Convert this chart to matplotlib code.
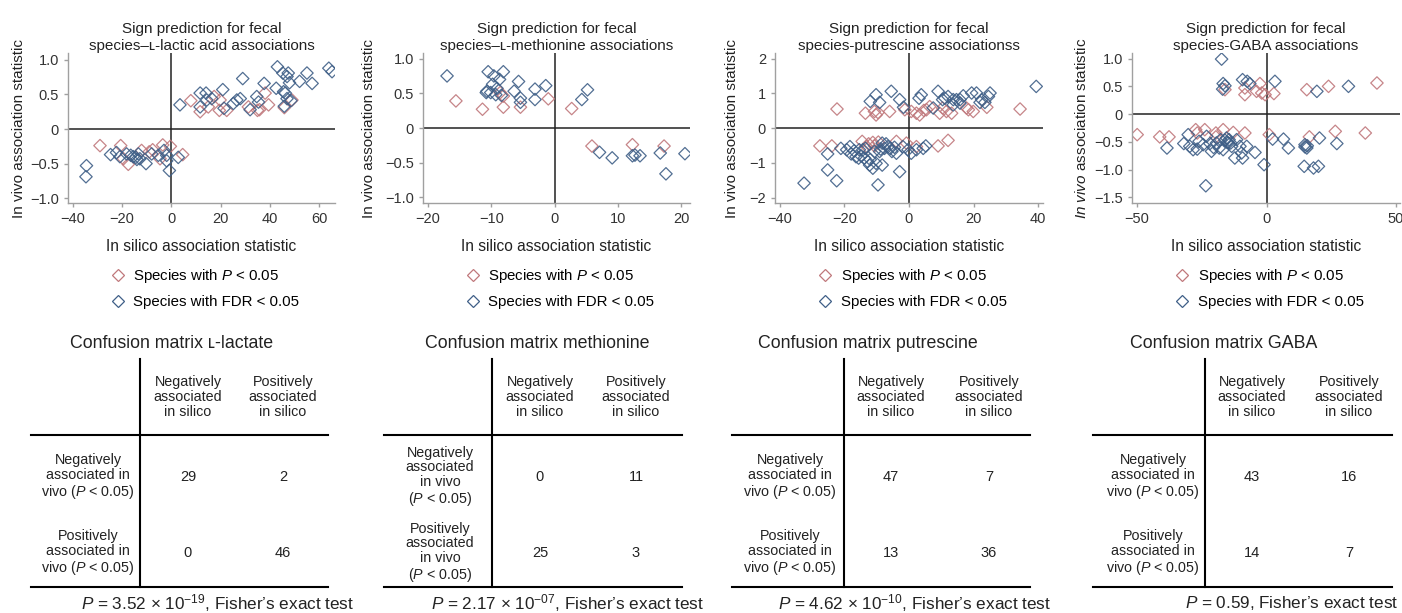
import matplotlib
matplotlib.use('Agg')
import matplotlib.pyplot as plt
from matplotlib.lines import Line2D

plt.rcParams['font.family'] = ['Liberation Sans', 'DejaVu Sans']
plt.rcParams['mathtext.fontset'] = 'custom'
plt.rcParams['mathtext.rm'] = 'Liberation Sans'
plt.rcParams['mathtext.it'] = 'Liberation Sans:italic'

RED = '#c0787c'
BLUE = '#3f5f87'

# ---- L-lactic acid ----
lac_red_x = [7.9, 11.7, 15, 17.4, 19.8, 19.5, 22.5, 31.3, 35, 35.8, 38.1, 39.5, 45.9, 49,
             -29, -20.6, -19.5, -17.5, -12.1, -7.6, -4.6, -3.5, -0.4, -9, 4.6]
lac_red_y = [0.41, 0.25, 0.32, 0.47, 0.42, 0.27, 0.27, 0.32, 0.27, 0.28, 0.52, 0.35, 0.31, 0.42,
             -0.24, -0.24, -0.43, -0.51, -0.31, -0.30, -0.43, -0.23, -0.25, -0.33, -0.37]
lac_blue_x = [3.5, 11.7, 11.7, 14.1, 14.4, 16.4, 20.9, 21.4, 25.2, 26.6, 28, 29, 32, 34.7, 35.4,
              37.7, 42.6, 43.1, 45.3, 45.6, 45.9, 47, 47.5, 48, 47, 48.6, 52.1, 55.1, 57.2, 64,
              65.3, 46.3,
              -34.5, -34.7, -24.7, -22.3, -20.9, -18.2, -15.5, -14.4, -13.4, -12.8, -10.3, -8,
              -5.3, -3, -1.9, -0.8, 2.8, -1.9, -16.5, -14]
lac_blue_y = [0.35, 0.52, 0.32, 0.52, 0.42, 0.44, 0.57, 0.30, 0.37, 0.42, 0.44, 0.73, 0.28, 0.47,
              0.39, 0.66, 0.59, 0.9, 0.81, 0.54, 0.33, 0.76, 0.81, 0.67, 0.44, 0.41, 0.69, 0.81,
              0.66, 0.88, 0.83, 0.52,
              -0.53, -0.69, -0.37, -0.34, -0.40, -0.36, -0.40, -0.41, -0.36, -0.43, -0.50, -0.36,
              -0.38, -0.31, -0.38, -0.60, -0.41, -0.46, -0.38, -0.44]

# ---- L-methionine ----
met_red_x = [-15.6, -11.4, -8.6, -8.1, -8.1, -5.4, -1.0, 2.7, 5.9, 12.3, 17.3]
met_red_y = [0.39, 0.27, 0.51, 0.46, 0.30, 0.30, 0.42, 0.28, -0.26, -0.24, -0.26]
met_blue_x = [-17, -10.5, -9.6, -8.7, -8.1, -9.8, -10.7, -10.8, -10.1, -8.4, -5.7, -6.4, -5.4,
              -5.4, -3.1, -3.1, -1.4, -9.1, -9.3, 4.3, 5.2,
              7.1, 9.1, 12.3, 12.7, 13.5, 16.7, 17.6, 20.6]
met_blue_y = [0.75, 0.81, 0.75, 0.70, 0.81, 0.63, 0.53, 0.51, 0.51, 0.47, 0.67, 0.53, 0.43,
              0.37, 0.56, 0.41, 0.61, 0.57, 0.48, 0.41, 0.55,
              -0.35, -0.43, -0.40, -0.39, -0.40, -0.36, -0.66, -0.37]

# ---- putrescine ----
put_red_x = [-22.3, -13.5, -10.7, -10.2, -9.6, -6, -1.3, 2.3, 3.3, 4.6, 9.5, 11.6, 13.2, 17.8,
             19.9, 24.1, 34.4, 5.4, 0.7, 6.4, 18.4, 10.4,
             -27.6, -23.9, -14.5, -13.1, -11.2, -10.7, -3.9, -0.8, 2.3, 9.0, 12.1, -12.5, -9.5]
put_red_y = [0.55, 0.43, 0.48, 0.38, 0.45, 0.48, 0.53, 0.43, 0.38, 0.51, 0.43, 0.48, 0.43, 0.58,
             0.48, 0.60, 0.55, 0.53, 0.48, 0.62, 0.53, 0.58,
             -0.51, -0.51, -0.38, -0.53, -0.41, -0.51, -0.38, -0.43, -0.53, -0.51, -0.35, -0.45,
             -0.40]
put_blue_x = [-12, -10.2, -9.1, -5.5, -2.9, -1.7, 3.1, 3.8, 7.5, 9.0, 11.1, 12.1, 13.7, 14.7,
              15.8, 16.8, 19.4, 20.9, 22.5, 23.5, 25.1, 24.6, 39.4, 10.4, 15.8, 22, 13.7,
              -25.2, -25.2, -22.4, -32.5, -21.1, -19.3, -18.3, -17.9, -16.4, -15.6, -14.3, -13.8,
              -12.8, -12.2, -11.2, -10.7, -9.1, -8.3, -8.3, -9.6, -7.6, -7.1, -5.8, -3.9, -2.9,
              -1.9, -0.3, 0.7, 2.3, 4.4, 5.2, -10.2, -5.3, -13.5, -15.4, -6.5, -17, -14.8, -12,
              -8.8, -4.5]
put_blue_y = [0.77, 0.96, 0.74, 1.06, 0.82, 0.60, 0.86, 0.96, 0.58, 1.06, 0.86, 0.91, 0.67, 0.82,
              0.72, 0.93, 1.01, 1.01, 0.82, 0.74, 1.01, 0.91, 1.20, 0.82, 0.82, 0.74, 0.82,
              -0.74, -1.20, -1.51, -1.58, -0.58, -0.62, -0.53, -0.74, -0.82, -0.86, -0.62, -0.86,
              -0.96, -1.06, -1.15, -0.67, -0.67, -0.43, -1.06, -1.63, -0.58, -0.45, -0.58, -0.72,
              -1.25, -0.53, -0.62, -0.72, -0.62, -0.58, -0.51, -1.01, -0.67, -0.58, -0.62, -0.53,
              -0.65, -0.80, -0.90, -0.60, -0.55]

# ---- GABA ----
gaba_red_x = [-16.1, -8.4, -8.4, -2.6, -3.9, -1.9, -0.6, 2.8, 15.5, 23.9, 42.6,
              -50, -41.3, -37.7, -27.4, -26.8, -23.9, -19.6, -19.6, -16.8, -12.9, -8.4, 1.0, 16.5,
              26.5, 38.1]
gaba_red_y = [0.44, 0.47, 0.35, 0.55, 0.41, 0.38, 0.35, 0.37, 0.44, 0.50, 0.56,
              -0.37, -0.41, -0.41, -0.28, -0.34, -0.28, -0.34, -0.41, -0.28, -0.33, -0.34, -0.37,
              -0.41, -0.31, -0.34]
gaba_blue_x = [-17.4, -16.8, -16.1, -17.0, -9.3, -7.5, -6.5, 3.2, 19.4, 31.6,
               -38.5, -32, -30.3, -29.7, -28.4, -26.8, -26.1, -24.5, -23.2, -21.9, -21.3, -19.4,
               -18.3, -17.8, -16.8, -15.5, -14.8, -14.5, -13.5, -12.3, -11.6, -10.3, -9.7, -9.3,
               -7.7, -4.5, -1.0, -23.5, -16.1, -15.2, -13.9, -20.5,
               2.3, 6.5, 8.4, 14.8, 14.8, 15.5, 14.5, 18.1, 20.0, 20.4, 27.1, 15.7]
gaba_blue_y = [0.99, 0.55, 0.51, 0.45, 0.62, 0.59, 0.55, 0.59, 0.41, 0.50,
               -0.61, -0.53, -0.37, -0.58, -0.64, -0.63, -0.49, -0.55, -0.40, -0.53, -0.67, -0.52,
               -0.61, -0.46, -0.64, -0.43, -0.52, -0.46, -0.58, -0.79, -0.46, -0.58, -0.70, -0.79,
               -0.58, -0.69, -0.91, -1.29, -0.47, -0.51, -0.52, -0.60,
               -0.45, -0.45, -0.61, -0.55, -0.59, -0.61, -0.94, -0.97, -0.94, -0.43, -0.53, -0.57]

titles = ['Sign prediction for fecal\nspecies–ʟ-lactic acid associations',
          'Sign prediction for fecal\nspecies–ʟ-methionine associations',
          'Sign prediction for fecal\nspecies-putrescine associationss',
          'Sign prediction for fecal\nspecies-GABA associations']
xticks = [[-40, -20, 0, 20, 40, 60], [-20, -10, 0, 10, 20], [-40, -20, 0, 20, 40], [-50, 0, 50]]
yticks = [[-1.0, -0.5, 0, 0.5, 1.0], [-1.0, -0.5, 0, 0.5, 1.0], [-2, -1, 0, 1, 2],
          [-1.5, -1.0, -0.5, 0, 0.5, 1.0]]
ytick_labels = [['−1.0', '−0.5', '0', '0.5', '1.0'], ['−1.0', '−0.5', '0', '0.5', '1.0'],
                ['−2', '−1', '0', '1', '2'], ['−1.5', '−1.0', '−0.5', '0', '0.5', '1.0']]

# confusion matrices: rows = in vivo (neg, pos), cols = in silico (neg, pos)
cm_names = ['ʟ-lactate', 'methionine', 'putrescine', 'GABA']
cm_values = [[[29, 2], [0, 46]], [[0, 11], [25, 3]], [[47, 7], [13, 36]], [[43, 16], [14, 7]]]
p_texts = [r'$P$ = 3.52 × 10$^{-19}$, Fisher’s exact test',
           r'$P$ = 2.17 × 10$^{-07}$, Fisher’s exact test',
           r'$P$ = 4.62 × 10$^{-10}$, Fisher’s exact test',
           r'$P$ = 0.59, Fisher’s exact test']

series = [(lac_red_x, lac_red_y, lac_blue_x, lac_blue_y),
          (met_red_x, met_red_y, met_blue_x, met_blue_y),
          (put_red_x, put_red_y, put_blue_x, put_blue_y),
          (gaba_red_x, gaba_red_y, gaba_blue_x, gaba_blue_y)]

W, H = 1402, 613
fig = plt.figure(figsize=(W / 100, H / 100), dpi=100)

# axes boxes in pixels: left, right
ax_px = [(68, 335), (423, 690), (775, 1043), (1132, 1400)]
ax_top, ax_bot = 53, 203
xlims = [(-42, 66.5), (-20.8, 21.4), (-41.5, 41.5), (-52, 51.5)]
ylims = [(-1.07, 1.1), (-1.08, 1.08), (-2.15, 2.16), (-1.6, 1.1)]
ylab_x = [-0.157, -0.175, -0.134, -0.16]

for i in range(4):
    l, r = ax_px[i]
    ax = fig.add_axes([l / W, 1 - ax_bot / H, (r - l) / W, (ax_bot - ax_top) / H])
    rx, ry, bx, by = series[i]
    ax.axhline(0, color='#222222', lw=1.1, zorder=1)
    ax.axvline(0, color='#222222', lw=1.1, zorder=1)
    ax.scatter(rx, ry, s=40, marker='D', facecolors='none', edgecolors=RED, linewidths=0.9,
               alpha=0.9, zorder=2)
    ax.scatter(bx, by, s=40, marker='D', facecolors='none', edgecolors=BLUE, linewidths=0.9,
               alpha=0.9, zorder=3)
    ax.set_xlim(*xlims[i])
    ax.set_ylim(*ylims[i])
    ax.set_xticks(xticks[i])
    ax.set_xticklabels([str(t).replace('-', '−') for t in xticks[i]])
    ax.set_yticks(yticks[i])
    ax.set_yticklabels(ytick_labels[i])
    for s in ['top', 'right']:
        ax.spines[s].set_visible(False)
    for s in ['left', 'bottom']:
        ax.spines[s].set_color('#a0a0a0')
        ax.spines[s].set_linewidth(1.0)
    ax.tick_params(colors='#a0a0a0', labelcolor='#333333', labelsize=10.5, length=3, width=1)
    ax.set_title(titles[i], fontsize=11, linespacing=1.25, pad=2, color='#222222')
    if i == 3:
        ax.set_ylabel(r'$\mathit{In\ vivo}$ association statistic', fontsize=11, color='#222222')
    else:
        ax.set_ylabel('In vivo association statistic', fontsize=11, color='#222222')
    ax.yaxis.set_label_coords(ylab_x[i], 0.5)
    ax.set_xlabel('In silico association statistic', fontsize=11.2, color='#222222')
    ax.xaxis.set_label_coords(0.5, -0.24)
    handles = [Line2D([], [], marker='D', ls='none', mfc='none', mec=RED, ms=6.3, mew=0.9),
               Line2D([], [], marker='D', ls='none', mfc='none', mec=BLUE, ms=6.3, mew=0.9)]
    ax.legend(handles, [r'Species with $P$ < 0.05', 'Species with FDR < 0.05'],
              loc='upper left', bbox_to_anchor=(0.158, -0.425), frameon=False, borderpad=0,
              handlelength=1.0, handletextpad=0.55, labelspacing=0.7, fontsize=10.8,
              borderaxespad=0)

# ---- confusion matrix tables (drawn on an overlay in pixel coords) ----
ov = fig.add_axes([0, 0, 1, 1])
ov.set_xlim(0, W)
ov.set_ylim(H, 0)
ov.axis('off')

tab_vx = [140, 492, 844, 1205]
tab_x0 = [31, 384, 732, 1093]
tab_x1 = [328, 682, 1030, 1392]
tab_cols = [(188, 283), (540, 636), (891, 989), (1252, 1349)]
tab_rowlab = [88, 440, 790, 1153]
tab_title = [172, 537, 868, 1224]
tab_p = [218, 568, 915, 1292]
row_labels = [['Negatively\nassociated in\nvivo ($P$ < 0.05)',
               'Positively\nassociated in\nvivo ($P$ < 0.05)'],
              ['Negatively\nassociated\nin vivo\n($P$ < 0.05)',
               'Positively\nassociated\nin vivo\n($P$ < 0.05)']]
col_labels = ['Negatively\nassociated\nin silico', 'Positively\nassociated\nin silico']

for i in range(4):
    ov.plot([tab_vx[i], tab_vx[i]], [359, 587], color='black', lw=1.5)
    ov.plot([tab_x0[i], tab_x1[i]], [435, 435], color='black', lw=1.5)
    ov.plot([tab_x0[i], tab_x1[i]], [587, 587], color='black', lw=1.5)
    ov.text(tab_title[i], 343, 'Confusion matrix ' + cm_names[i], ha='center', va='center',
            fontsize=12.8, color='#222222')
    for j in range(2):
        ov.text(tab_cols[i][j], 397, col_labels[j], ha='center', va='center', fontsize=10.3,
                linespacing=1.08, color='#222222')
    rl = row_labels[1] if i == 1 else row_labels[0]
    for k, yc in enumerate([477, 553]):
        ov.text(tab_rowlab[i], yc, rl[k], ha='center', va='center', fontsize=10.3,
                linespacing=1.08, color='#222222')
        for j in range(2):
            ov.text(tab_cols[i][j], yc, str(cm_values[i][k][j]), ha='center', va='center',
                    fontsize=10.5, color='#222222')
    ov.text(tab_p[i], 603, p_texts[i], ha='center', va='center', fontsize=12.3, color='#222222')

fig.savefig('out.png', dpi=100)
